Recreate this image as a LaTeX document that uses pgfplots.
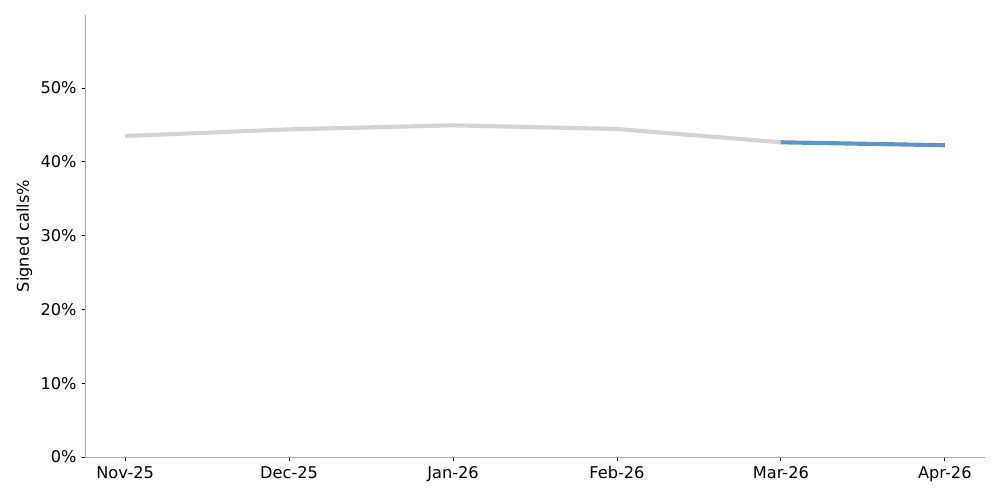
\documentclass[border=0pt]{standalone}
\usepackage{fontspec}
\setmainfont{DejaVu Sans}
\usepackage{pgfplots}
\pgfplotsset{compat=1.18}
\definecolor{spinegray}{HTML}{AAAAAA}
\definecolor{pastline}{HTML}{D3D3D3}
\definecolor{curline}{HTML}{6192CC}

\begin{document}
\begin{tikzpicture}
\useasboundingbox (0,0) rectangle (10in,5in);
\begin{axis}[
    at={(0.85in,0.43in)}, anchor=south west,
    width=9in, height=4.42in, scale only axis,
    xmin=-0.245, xmax=5.245,
    ymin=0, ymax=59.9,
    axis x line*=bottom, axis y line*=left,
    axis line style={spinegray, line width=0.6pt},
    xtick={0,1,2,3,4,5},
    xticklabels={Nov-25,Dec-25,Jan-26,Feb-26,Mar-26,Apr-26},
    ytick={0,10,20,30,40,50},
    yticklabel={\pgfmathprintnumber{\tick}\%},
    /pgf/number format/assume math mode=true,
    tick style={black, line width=0.6pt},
    tick align=outside, major tick length=0.035in,
    tick label style={font=\fontsize{11.7}{14}\selectfont},
    ylabel={Signed calls\%},
    every axis y label/.style={at={(ticklabel cs:0.5)}, rotate=90, anchor=south,
        yshift=-0.01in, font=\fontsize{11.7}{14}\selectfont},
    xticklabel style={yshift=-0.01in},
    clip=false,
]
\addplot[pastline, line width=3pt, line join=round] coordinates {
    (0,43.5) (1,44.4) (2,44.95) (3,44.45) (4,42.65)
};
\addplot[curline, line width=3pt] coordinates {
    (4,42.65) (5,42.25)
};
\end{axis}
\end{tikzpicture}
\end{document}
